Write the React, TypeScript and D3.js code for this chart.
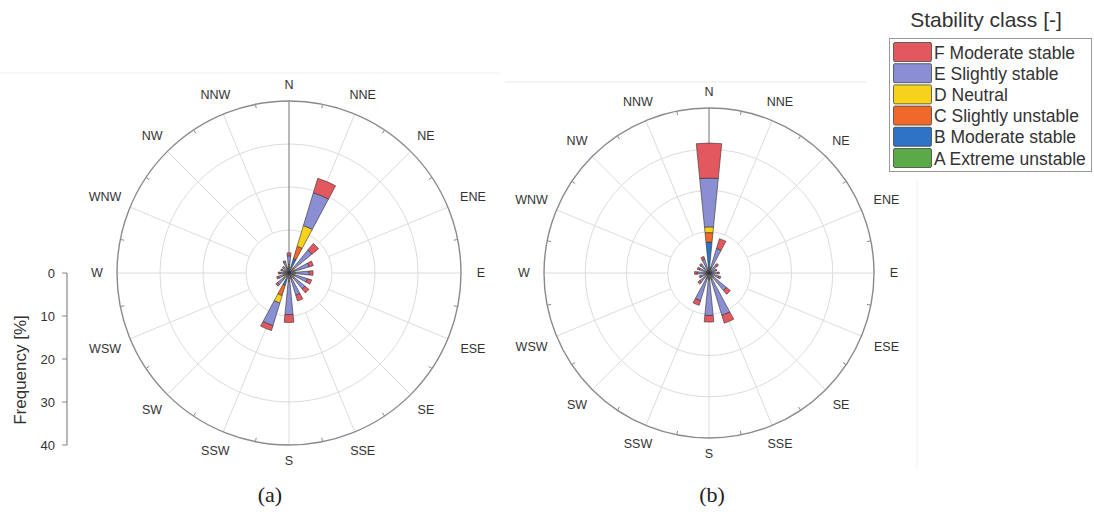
import React from "react";
import * as d3 from "d3";

// ---------- data ----------
const directions = ["N", "NNE", "NE", "ENE", "E", "ESE", "SE", "SSE", "S", "SSW", "SW", "WSW", "W", "WNW", "NW", "NNW"];
const classNames = ["A Extreme unstable", "B Moderate stable", "C Slightly unstable", "D Neutral", "E Slightly stable", "F Moderate stable"];
const classColors = ["#5aaa48", "#2f74c4", "#f0692a", "#f6d21a", "#8a8ed2", "#e2585e"];
const freqTicks = [0, 10, 20, 30, 40];

// rose (a) frequencies [%] per direction
const a_A = [0.2, 0.5, 0.2, 0.2, 0.2, 0.2, 0.2, 0.2, 0.3, 0.5, 0.2, 0.2, 0.1, 0.1, 0.1, 0.2];
const a_B = [1.0, 3.0, 1.0, 0.8, 0.8, 0.8, 0.8, 0.8, 1.0, 2.5, 0.8, 0.6, 0.5, 0.5, 0.5, 0.8];
const a_C = [0.5, 3.0, 0.4, 0.3, 0.3, 0.3, 0.3, 0.3, 0.5, 2.5, 0.5, 0.4, 0.3, 0.2, 0.2, 0.3];
const a_D = [0.3, 5.0, 0.3, 0.2, 0.2, 0.2, 0.2, 0.2, 0.2, 1.8, 0.3, 0.2, 0.2, 0.2, 0.2, 0.2];
const a_E = [2.0, 8.0, 5.0, 3.4, 3.2, 3.0, 3.3, 3.9, 7.7, 5.5, 1.7, 1.2, 1.0, 0.7, 0.7, 1.2];
const a_F = [0.7, 3.5, 2.0, 1.0, 0.9, 1.0, 1.2, 1.4, 1.8, 1.2, 0.5, 0.4, 0.4, 0.3, 0.3, 0.3];

// rose (b)
const b_A = [0.5, 0.2, 0.1, 0.1, 0.1, 0.1, 0.2, 0.2, 0.2, 0.2, 0.1, 0.1, 0.1, 0.1, 0.1, 0.1];
const b_B = [7.0, 0.8, 0.5, 0.4, 0.5, 0.5, 0.8, 1.0, 1.0, 0.8, 0.5, 0.4, 0.5, 0.4, 0.4, 0.5];
const b_C = [2.3, 0.3, 0.2, 0.1, 0.1, 0.2, 0.3, 0.3, 0.3, 0.3, 0.2, 0.1, 0.2, 0.1, 0.1, 0.2];
const b_D = [1.4, 0.2, 0.1, 0.1, 0.1, 0.1, 0.2, 0.2, 0.2, 0.2, 0.1, 0.1, 0.1, 0.1, 0.1, 0.1];
const b_E = [11.8, 4.7, 1.6, 1.0, 1.3, 1.6, 4.0, 9.0, 8.6, 5.5, 2.0, 1.4, 2.0, 1.8, 1.8, 2.6];
const b_F = [8.5, 2.5, 0.5, 0.3, 0.4, 0.5, 1.2, 2.0, 1.6, 1.2, 0.6, 0.4, 0.6, 0.5, 0.5, 0.7];

const roseA = [a_A, a_B, a_C, a_D, a_E, a_F];
const roseB = [b_A, b_B, b_C, b_D, b_E, b_F];

const FONT = "'Liberation Sans', Arial, Helvetica, sans-serif";
const TXT = "#333333";

function Rose({ cx, cy, R, series }: { cx: number; cy: number; R: number; series: number[][] }) {
  const r = d3.scaleLinear().domain([0, 40]).range([0, R]);
  const step = (2 * Math.PI) / directions.length;
  const half = step / 4; // bar width = half of sector
  const arc = d3.arc<any>();
  const bars: JSX.Element[] = [];
  directions.forEach((d, i) => {
    let cum = 0;
    const ang = i * step;
    series.forEach((vals, k) => {
      const v = vals[i];
      const inner = cum;
      cum += v;
      const path = arc({
        innerRadius: r(inner),
        outerRadius: r(cum),
        startAngle: ang - half,
        endAngle: ang + half,
      });
      bars.push(
        <path key={`${d}-${k}`} d={path || ""} fill={classColors[k]} stroke="#333" strokeWidth={0.6} strokeLinejoin="round" />
      );
    });
  });
  const rings = [10, 20, 30];
  const angles = directions.map((_, i) => i * step);
  return (
    <g transform={`translate(${cx},${cy})`}>
      {rings.map((t) => (
        <circle key={t} r={r(t)} fill="none" stroke="#dcdcdc" strokeWidth={1} />
      ))}
      {angles.map((a, i) =>
        i === 0 ? null : (
          <line
            key={i}
            x1={r(10) * Math.sin(a)}
            y1={-r(10) * Math.cos(a)}
            x2={R * Math.sin(a)}
            y2={-R * Math.cos(a)}
            stroke="#dcdcdc"
            strokeWidth={1}
          />
        )
      )}
      <line x1={0} y1={0} x2={0} y2={-R} stroke="#8a8a8a" strokeWidth={1.2} />
      {angles.map((a, i) => {
        const m = a + step / 2;
        return (
          <line
            key={"t" + i}
            x1={(R - 4) * Math.sin(m)}
            y1={-(R - 4) * Math.cos(m)}
            x2={R * Math.sin(m)}
            y2={-R * Math.cos(m)}
            stroke="#8a8a8a"
            strokeWidth={1}
          />
        );
      })}
      <circle r={R} fill="none" stroke="#8a8a8a" strokeWidth={1.4} />
      {bars}
      {directions.map((d, i) => {
        const a = i * step;
        const w = d.length * 8;
        const rr = R + 16 + Math.abs(Math.sin(a)) * w * 0.5;
        return (
          <text
            key={"l" + d}
            x={rr * Math.sin(a)}
            y={-rr * Math.cos(a)}
            textAnchor="middle"
            dominantBaseline="central"
            fontFamily={FONT}
            fontSize={12.5}
            fill={TXT}
          >
            {d}
          </text>
        );
      })}
    </g>
  );
}

export default function App() {
  const yAxis = d3.scaleLinear().domain([0, 40]).range([273, 445]);
  const legendOrder = [5, 4, 3, 2, 1, 0];
  return (
    <svg width={1094} height={517} style={{ position: "absolute", left: 0, top: 0, background: "#fff" }}>
      <rect x={0} y={0} width={1094} height={517} fill="#fff" />
      {/* faint scan borders */}
      <line x1={0} y1={73} x2={500} y2={73} stroke="#eeeeee" strokeWidth={1} />
      <line x1={505} y1={82} x2={866} y2={82} stroke="#e8e8e8" strokeWidth={1} />
      <line x1={917} y1={180} x2={917} y2={470} stroke="#f0f0f0" strokeWidth={1} />

      <Rose cx={289} cy={273} R={172} series={roseA} />
      <Rose cx={709} cy={273} R={165} series={roseB} />

      {/* frequency axis */}
      <g>
        <line x1={67} y1={yAxis(0)} x2={67} y2={yAxis(40)} stroke="#888" strokeWidth={1.2} />
        {freqTicks.map((t) => (
          <g key={t}>
            <line x1={62} y1={yAxis(t)} x2={67} y2={yAxis(t)} stroke="#888" strokeWidth={1} />
            <text x={55} y={yAxis(t)} textAnchor="end" dominantBaseline="central" fontFamily={FONT} fontSize={13} fill={TXT}>
              {t}
            </text>
          </g>
        ))}
        <text
          transform={`translate(20,370) rotate(-90)`}
          textAnchor="middle"
          dominantBaseline="central"
          fontFamily={FONT}
          fontSize={17}
          fill={TXT}
        >
          Frequency [%]
        </text>
      </g>

      {/* legend */}
      <g>
        <text x={986} y={19} textAnchor="middle" dominantBaseline="central" fontFamily={FONT} fontSize={21} fill={TXT}>
          Stability class [-]
        </text>
        <rect x={889.5} y={38.5} width={202} height={133} fill="#fff" stroke="#999" strokeWidth={1} />
        {legendOrder.map((k, j) => {
          const y = 42 + j * 21.2;
          return (
            <g key={k}>
              <rect x={893.5} y={y + 0.5} width={38} height={19} rx={1.5} fill={classColors[k]} stroke="#444" strokeWidth={0.8} />
              <text x={934} y={y + 10.5} dominantBaseline="central" fontFamily={FONT} fontSize={17.5} textLength={undefined} fill={TXT}>
                {classNames[k]}
              </text>
            </g>
          );
        })}
      </g>

      {/* captions */}
      <text x={270} y={494} textAnchor="middle" dominantBaseline="central" fontFamily="'Liberation Serif', 'Times New Roman', serif" fontSize={22} fill="#222">
        (a)
      </text>
      <text x={712} y={494} textAnchor="middle" dominantBaseline="central" fontFamily="'Liberation Serif', 'Times New Roman', serif" fontSize={22} fill="#222">
        (b)
      </text>
    </svg>
  );
}
